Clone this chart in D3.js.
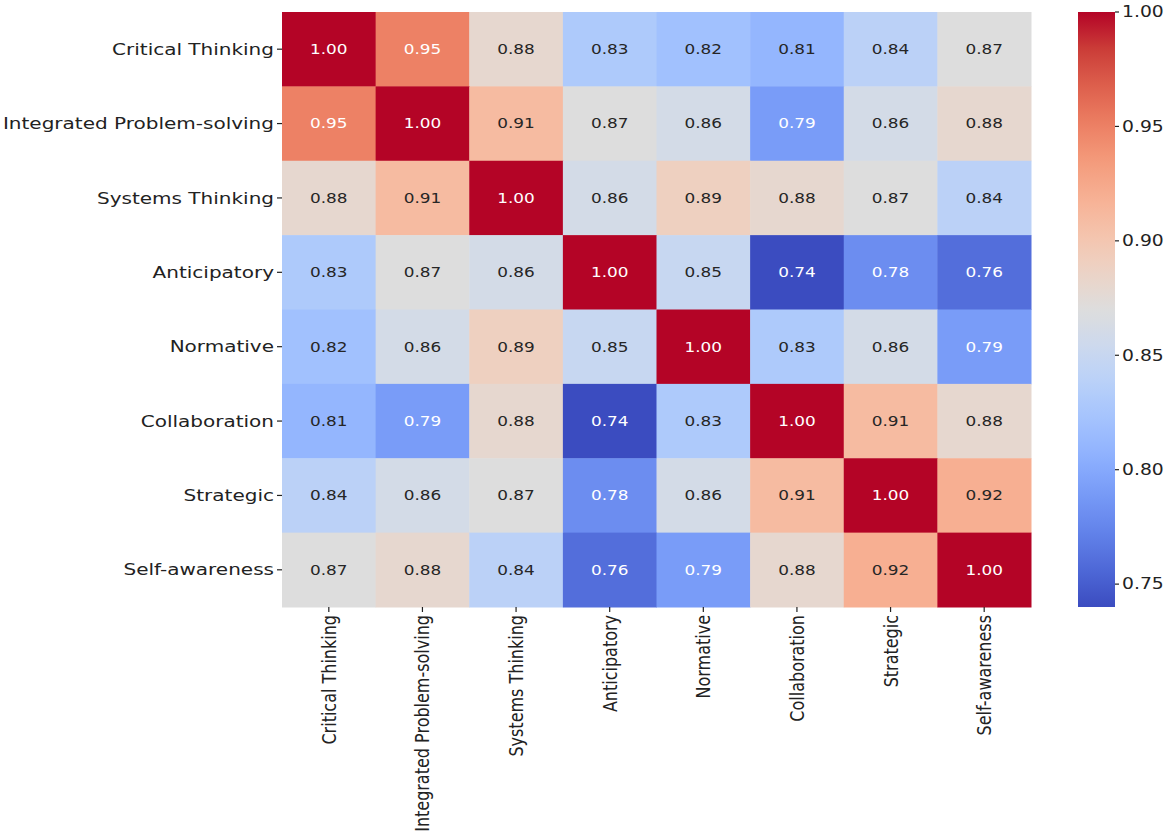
<!DOCTYPE html>
<html>
<head>
  <meta charset="utf-8">
  <style>
    body { margin: 0; background: #fff; }
    text { font-family: "DejaVu Sans", sans-serif; fill: #222; }
  </style>
</head>
<body>
<div id="chart"></div>
<script src="https://d3js.org/d3.v7.min.js"></script>
<script>
  // competencies, same order on both axes
  const labels = ["Critical Thinking", "Integrated Problem-solving", "Systems Thinking",
    "Anticipatory", "Normative", "Collaboration", "Strategic", "Self-awareness"];

  // correlation rows (row i = labels[i])
  const rowCritical   = [1.00, 0.95, 0.88, 0.83, 0.82, 0.81, 0.84, 0.87];
  const rowIntegrated = [0.95, 1.00, 0.91, 0.87, 0.86, 0.79, 0.86, 0.88];
  const rowSystems    = [0.88, 0.91, 1.00, 0.86, 0.89, 0.88, 0.87, 0.84];
  const rowAnticip    = [0.83, 0.87, 0.86, 1.00, 0.85, 0.74, 0.78, 0.76];
  const rowNormative  = [0.82, 0.86, 0.89, 0.85, 1.00, 0.83, 0.86, 0.79];
  const rowCollab     = [0.81, 0.79, 0.88, 0.74, 0.83, 1.00, 0.91, 0.88];
  const rowStrategic  = [0.84, 0.86, 0.87, 0.78, 0.86, 0.91, 1.00, 0.92];
  const rowSelf       = [0.87, 0.88, 0.84, 0.76, 0.79, 0.88, 0.92, 1.00];
  const matrix = [rowCritical, rowIntegrated, rowSystems, rowAnticip,
    rowNormative, rowCollab, rowStrategic, rowSelf];

  const cbarTicks = [0.75, 0.80, 0.85, 0.90, 0.95, 1.00];

  // matplotlib "coolwarm" stops
  const coolwarm = [
    [0.230, 0.299, 0.754], [0.304, 0.407, 0.845], [0.383, 0.509, 0.917],
    [0.467, 0.605, 0.968], [0.553, 0.689, 0.995], [0.639, 0.760, 0.998],
    [0.722, 0.814, 0.977], [0.799, 0.850, 0.932], [0.865, 0.865, 0.865],
    [0.924, 0.827, 0.775], [0.959, 0.770, 0.678], [0.970, 0.694, 0.579],
    [0.958, 0.603, 0.482], [0.924, 0.497, 0.388], [0.869, 0.378, 0.300],
    [0.796, 0.241, 0.221], [0.706, 0.016, 0.150]
  ].map(c => d3.rgb(c[0] * 255, c[1] * 255, c[2] * 255).toString());

  const width = 1170, height = 834;
  const sx = 1.25; // the picture is stretched sideways

  const vmin = d3.min(matrix.flat()), vmax = 1.0;
  const color = d3.scaleSequential(d3.piecewise(d3.interpolateRgb, coolwarm))
    .domain([vmin, vmax]);

  const x = d3.scaleBand().domain(labels).range([282, 1031]);
  const y = d3.scaleBand().domain(labels).range([12, 607]);

  const svg = d3.select('#chart').append('svg')
    .attr('width', width)
    .attr('height', height);

  const cells = [];
  matrix.forEach((row, i) => row.forEach((v, j) => cells.push({r: labels[i], c: labels[j], v: v})));

  svg.append('g').selectAll('rect')
    .data(cells)
    .enter()
    .append('rect')
    .attr('x', d => x(d.c))
    .attr('y', d => y(d.r))
    .attr('width', x.bandwidth() + 0.5)
    .attr('height', y.bandwidth() + 0.5)
    .attr('fill', d => color(d.v));

  // seaborn style annotation colour (luminance rule)
  function lum(c) {
    const rgb = d3.rgb(c);
    const f = u => { u /= 255; return u <= 0.03928 ? u / 12.92 : Math.pow((u + 0.055) / 1.055, 2.4); };
    return 0.2126 * f(rgb.r) + 0.7152 * f(rgb.g) + 0.0722 * f(rgb.b);
  }

  svg.append('g').selectAll('text')
    .data(cells)
    .enter()
    .append('text')
    .attr('transform', d => `translate(${x(d.c) + x.bandwidth() / 2},${y(d.r) + y.bandwidth() / 2}) scale(${sx},1)`)
    .attr('text-anchor', 'middle')
    .attr('dy', '0.36em')
    .style('font-size', '13.5px')
    .style('fill', d => lum(color(d.v)) > 0.408 ? '#262626' : '#ffffff')
    .text(d => d.v.toFixed(2));

  // y axis
  const gy = svg.append('g');
  labels.forEach(l => {
    const cy = y(l) + y.bandwidth() / 2;
    gy.append('line').attr('x1', 277).attr('x2', 282).attr('y1', cy).attr('y2', cy)
      .attr('stroke', '#222').attr('stroke-width', 1.2);
    gy.append('text')
      .attr('transform', `translate(274,${cy}) scale(${sx},1)`)
      .attr('text-anchor', 'end')
      .attr('dy', '0.35em')
      .style('font-size', '16px')
      .text(l);
  });

  // x axis
  const gx = svg.append('g');
  labels.forEach(l => {
    const cx = x(l) + x.bandwidth() / 2;
    gx.append('line').attr('x1', cx).attr('x2', cx).attr('y1', 607).attr('y2', 612)
      .attr('stroke', '#222').attr('stroke-width', 1.2);
    gx.append('text')
      .attr('transform', `translate(${cx},615) scale(${sx},1) rotate(-90)`)
      .attr('text-anchor', 'end')
      .attr('dy', '0.35em')
      .style('font-size', '16px')
      .text(l);
  });

  // colour bar
  const cb = d3.scaleLinear().domain([vmin, vmax]).range([607, 12]);
  const grad = svg.append('defs').append('linearGradient')
    .attr('id', 'cbar').attr('x1', 0).attr('y1', 1).attr('x2', 0).attr('y2', 0);
  d3.range(0, 1.0001, 0.02).forEach(t => {
    grad.append('stop').attr('offset', t).attr('stop-color', color(vmin + t * (vmax - vmin)));
  });
  svg.append('rect')
    .attr('x', 1078).attr('y', 12)
    .attr('width', 37).attr('height', 595)
    .attr('fill', 'url(#cbar)');

  const gc = svg.append('g');
  cbarTicks.forEach(t => {
    gc.append('line').attr('x1', 1115).attr('x2', 1119).attr('y1', cb(t)).attr('y2', cb(t))
      .attr('stroke', '#222').attr('stroke-width', 1.2);
    gc.append('text')
      .attr('transform', `translate(1122,${cb(t)}) scale(${sx},1)`)
      .attr('dy', '0.35em')
      .style('font-size', '15px')
      .text(t.toFixed(2));
  });
</script>
</body>
</html>
